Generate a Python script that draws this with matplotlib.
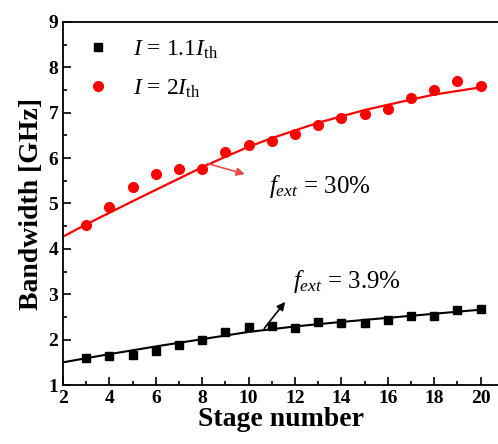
import numpy as np
import matplotlib
matplotlib.use("Agg")
import matplotlib.pyplot as plt

plt.rcParams['font.family'] = ['Liberation Serif', 'DejaVu Serif']
plt.rcParams['mathtext.fontset'] = 'custom'
plt.rcParams['mathtext.rm'] = 'Liberation Serif'
plt.rcParams['mathtext.it'] = 'Liberation Serif:italic'

# bandwidth vs stage number for two bias currents
stage = np.arange(3, 21)
bw_low = [1.60, 1.64, 1.67, 1.76, 1.88, 2.00, 2.17, 2.27, 2.30, 2.26,
          2.39, 2.37, 2.37, 2.43, 2.51, 2.51, 2.65, 2.68]
bw_high = [4.53, 4.93, 5.37, 5.65, 5.76, 5.76, 6.13, 6.30, 6.38, 6.54,
           6.73, 6.88, 6.97, 7.08, 7.33, 7.50, 7.69, 7.60]

# model curves (f_ext = 3.9 % and 30 %)
curve_x_low = [2, 4, 6, 8, 10, 12, 14, 16, 18, 20]
curve_low = [1.50, 1.68, 1.85, 2.01, 2.17, 2.29, 2.39, 2.48, 2.57, 2.66]
curve_x_high = [2, 3, 5, 7, 8, 9, 10, 11, 13, 15, 17, 18, 20]
curve_high = [4.27, 4.54, 5.05, 5.55, 5.80, 6.03, 6.25, 6.44, 6.78, 7.06,
              7.29, 7.40, 7.56]

fig = plt.figure(figsize=(4.98, 4.44), dpi=100)
ax = fig.add_axes([63/498, 1-385/444, 435/498, 363/444])

ax.plot(curve_x_low, curve_low, color='black', lw=1.5)
ax.plot(curve_x_high, curve_high, color='red', lw=1.6)
ax.plot(stage, bw_low, 's', color='black', ms=6, label=r'$I$ = 1.1$I_{\mathrm{th}}$')
ax.plot(stage, bw_high, 'o', color='red', ms=7, label=r'$I$ = 2$I_{\mathrm{th}}$')

ax.annotate('', xy=(9.95, 5.63), xytext=(8.1, 5.9),
            arrowprops=dict(arrowstyle='-|>', color='#f04848', lw=1.2, mutation_scale=12))
ax.text(10.9, 5.38, r'$f_{ext}$ = 30%', fontsize=18, va='center')
ax.annotate('', xy=(11.65, 2.88), xytext=(10.6, 2.2),
            arrowprops=dict(arrowstyle='-|>', color='black', lw=1.2, mutation_scale=12))
ax.text(11.9, 3.27, r'$f_{ext}$ = 3.9%', fontsize=18, va='center')

ax.set_xlim(2, 20.75)
ax.set_ylim(1, 9)
ax.set_xticks(range(2, 21, 2))
ax.set_xticks(range(3, 21, 2), minor=True)
ax.set_yticks(range(1, 10))
ax.set_yticks(np.arange(1.5, 9, 1), minor=True)
ax.tick_params(which='both', direction='in', labelsize=14, width=1.2)
ax.tick_params(which='major', length=6)
ax.tick_params(which='minor', length=3)
for lab in ax.get_xticklabels() + ax.get_yticklabels():
    lab.set_fontweight('bold')
ax.spines['right'].set_visible(False)
for s in ['left', 'bottom', 'top']:
    ax.spines[s].set_linewidth(1.3)

ax.set_xlabel('Stage number', fontsize=20, fontweight='bold', labelpad=0)
ax.set_ylabel('Bandwidth [GHz]', fontsize=20, fontweight='bold', labelpad=3)

ax.legend(loc='upper left', frameon=False, fontsize=17, handlelength=1.0,
          handletextpad=1.0, borderaxespad=0.3, labelspacing=0.7,
          bbox_to_anchor=(0.015, 1.0))

fig.savefig('out.png', dpi=100)
